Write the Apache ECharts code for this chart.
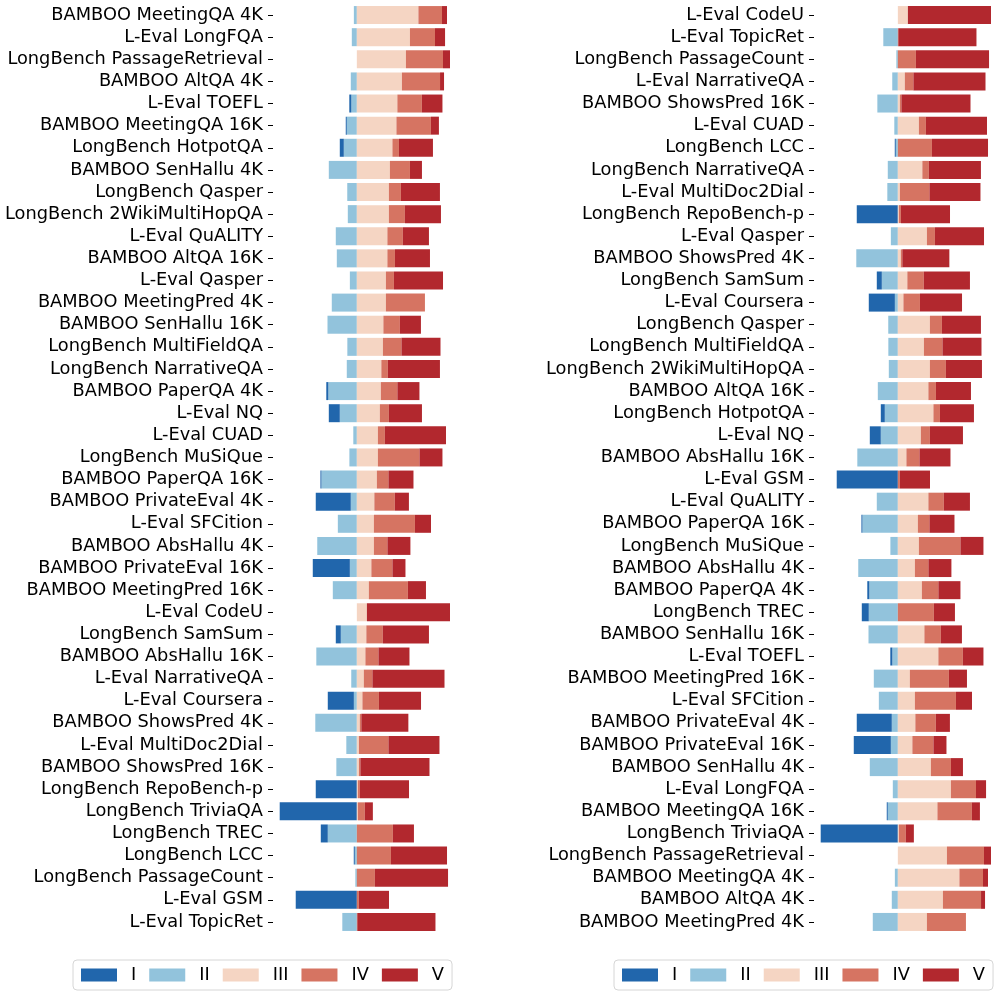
<!DOCTYPE html>
<html><head><meta charset="utf-8">
<script src="https://cdn.jsdelivr.net/npm/echarts@6/dist/echarts.min.js"></script>
<style>html,body{margin:0;padding:0;background:#fff}#c{width:997px;height:993px}</style>
</head><body><div id="c"></div>
<script>
// Tasks (left panel order: sorted by level III share)
const tasks = [
  'BAMBOO MeetingQA 4K','L-Eval LongFQA','LongBench PassageRetrieval','BAMBOO AltQA 4K','L-Eval TOEFL',
  'BAMBOO MeetingQA 16K','LongBench HotpotQA','BAMBOO SenHallu 4K','LongBench Qasper','LongBench 2WikiMultiHopQA',
  'L-Eval QuALITY','BAMBOO AltQA 16K','L-Eval Qasper','BAMBOO MeetingPred 4K','BAMBOO SenHallu 16K',
  'LongBench MultiFieldQA','LongBench NarrativeQA','BAMBOO PaperQA 4K','L-Eval NQ','L-Eval CUAD',
  'LongBench MuSiQue','BAMBOO PaperQA 16K','BAMBOO PrivateEval 4K','L-Eval SFCition','BAMBOO AbsHallu 4K',
  'BAMBOO PrivateEval 16K','BAMBOO MeetingPred 16K','L-Eval CodeU','LongBench SamSum','BAMBOO AbsHallu 16K',
  'L-Eval NarrativeQA','L-Eval Coursera','BAMBOO ShowsPred 4K','L-Eval MultiDoc2Dial','BAMBOO ShowsPred 16K',
  'LongBench RepoBench-p','LongBench TriviaQA','LongBench TREC','LongBench LCC','LongBench PassageCount',
  'L-Eval GSM','L-Eval TopicRet'
];
// Share (%) of each level per task, aligned with tasks
const valI   = [0,0,0,0,2.2, 1.1,4.3,0,0,0, 0,0,0,0,0, 0,0,2.2,11.8,0, 0,1.1,37.6,0,0, 39.8,0,0,5.4,0, 0,28.0,0,0,0, 44.1,82.8,7.5,1.1,0, 65.6,0];
const valII  = [3.2,5.4,0,6.5,5.9, 10.8,14.0,30.1,10.3,9.7, 22.6,21.5,7.5,26.9,31.5, 10.2,10.8,30.6,18.3,3.8, 8.0,38.0,6.5,20.4,42.5, 7.5,25.8,0,17.2,43.5, 6.0,3.2,44.6,11.3,22.0, 0,0,31.2,2.2,1.6, 0,15.6];
const valIII = [66.1,57.0,52.7,48.4,43.5, 42.5,38.2,35.5,34.4,34.4, 32.8,32.8,31.2,31.2,28.5, 28.0,26.3,25.8,24.7,22.6, 22.6,21.5,18.8,18.3,18.3, 15.6,12.9,10.8,10.2,9.2, 7.5,6.0,3.2,2.2,2.2, 1.1,1.1,0,0,0, 0,0];
const valIV  = [25.3,26.9,39.8,40.9,26.3, 37.0,7.0,21.5,12.9,17.2, 16.6,8.1,8.6,41.9,17.7, 19.9,7.0,17.7,9.7,7.5, 44.6,12.4,22.0,44.1,14.5, 22.6,41.9,0,17.7,14.0, 9.2,17.7,1.6,31.7,1.6, 2.2,7.5,38.7,36.6,19.4, 2.2,0.5];
const valV   = [5.4,10.8,7.5,4.3,22.1, 8.6,36.5,12.9,41.9,38.7, 28.0,37.6,52.7,0,22.6, 41.9,55.9,23.7,35.5,65.6, 24.7,26.9,15.1,17.2,24.7, 14.0,19.4,89.2,49.5,33.3, 77.4,45.2,50.5,54.8,74.2, 52.7,8.6,22.6,60.2,78.5, 32.3,83.9];
// Tick labels of each panel
const leftCategories = tasks.slice();
const rightCategories = [
  'L-Eval CodeU','L-Eval TopicRet','LongBench PassageCount','L-Eval NarrativeQA','BAMBOO ShowsPred 16K',
  'L-Eval CUAD','LongBench LCC','LongBench NarrativeQA','L-Eval MultiDoc2Dial','LongBench RepoBench-p',
  'L-Eval Qasper','BAMBOO ShowsPred 4K','LongBench SamSum','L-Eval Coursera','LongBench Qasper',
  'LongBench MultiFieldQA','LongBench 2WikiMultiHopQA','BAMBOO AltQA 16K','LongBench HotpotQA','L-Eval NQ',
  'BAMBOO AbsHallu 16K','L-Eval GSM','L-Eval QuALITY','BAMBOO PaperQA 16K','LongBench MuSiQue',
  'BAMBOO AbsHallu 4K','BAMBOO PaperQA 4K','LongBench TREC','BAMBOO SenHallu 16K','L-Eval TOEFL',
  'BAMBOO MeetingPred 16K','L-Eval SFCition','BAMBOO PrivateEval 4K','BAMBOO PrivateEval 16K','BAMBOO SenHallu 4K',
  'L-Eval LongFQA','BAMBOO MeetingQA 16K','LongBench TriviaQA','LongBench PassageRetrieval','BAMBOO MeetingQA 4K',
  'BAMBOO AltQA 4K','BAMBOO MeetingPred 4K'
];
const levels = ['I','II','III','IV','V'];

const levelVals = {I: valI, II: valII, III: valIII, IV: valIV, V: valV};
const levelColors = {I:'#2166ac', II:'#92c3dc', III:'#f5d5c3', IV:'#d67462', V:'#b2282e'};
const stackOrder = ['II','I','III','IV','V'];
const FONT = 'DejaVu Sans';
const FS = 17.8;

function getVal(level, name) {
  const v = levelVals[level][tasks.indexOf(name)];
  return (level === 'I' || level === 'II') ? -v : v;
}

const panels = [
  {cats: leftCategories, gridLeft: 273, legendLeft: 73},
  {cats: rightCategories, gridLeft: 814, legendLeft: 614}
];

const grid = [], xAxis = [], yAxis = [], series = [], legend = [];
panels.forEach((p, i) => {
  grid.push({left: p.gridLeft, width: 177, top: 4, height: 929});
  xAxis.push({type: 'value', gridIndex: i, min: -90, max: 100, show: false});
  yAxis.push({
    type: 'category', gridIndex: i, data: p.cats, inverse: true, position: 'left',
    axisLine: {show: false, onZero: false},
    axisTick: {show: true, alignWithLabel: true, interval: 0, length: 5, lineStyle: {color: '#000', width: 1}},
    axisLabel: {color: '#000', fontFamily: FONT, fontSize: FS, margin: 10, interval: 0}
  });
  stackOrder.forEach(lv => {
    series.push({
      type: 'bar', name: lv, stack: 'p' + i, xAxisIndex: i, yAxisIndex: i,
      barWidth: 18, itemStyle: {color: levelColors[lv]},
      data: p.cats.map(n => getVal(lv, n))
    });
  });
  legend.push({
    data: levels, left: p.legendLeft, top: 960, orient: 'horizontal',
    icon: 'rect', itemWidth: 36, itemHeight: 13, itemGap: 13,
    padding: [6, 8], backgroundColor: '#fff', borderColor: '#d6d6d6', borderWidth: 1, borderRadius: 4,
    textStyle: {color: '#000', fontFamily: FONT, fontSize: FS, padding: [0, 0, 0, 9]},
    selectedMode: false
  });
});

const chart = echarts.init(document.getElementById('c'), null, {renderer: 'canvas'});
chart.setOption({animation: false, backgroundColor: '#fff', grid, xAxis, yAxis, series, legend});
</script></body></html>
